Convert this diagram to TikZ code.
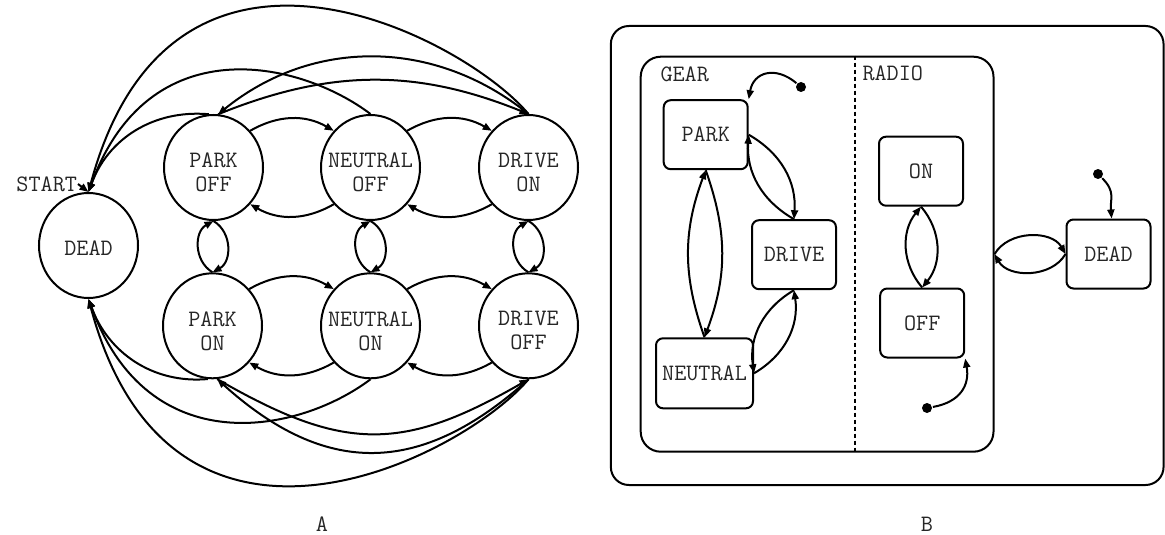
\documentclass[tikz,border=0pt]{standalone}
\usepackage{fontspec}
\usetikzlibrary{shapes.geometric, arrows.meta}
\begin{document}
\begin{tikzpicture}[x=1pt,y=1pt,
  line width=2pt,
  txt/.style={font=\ttfamily\fontsize{23.5}{24}\selectfont, inner sep=0pt, text=black!85},
  stt/.style={ellipse, draw, minimum width=99pt, minimum height=105pt, inner sep=0pt},
  sttlbl/.style={txt, align=center, yshift=-5pt},
  sbox/.style={draw, rounded corners=7pt, minimum width=84pt, minimum height=69pt, inner sep=0pt, txt},
  arr/.style={-{Triangle[length=9pt,width=7pt]}},
  initdot/.style={circle, fill, inner sep=0pt, minimum size=10pt},
]
\useasboundingbox (0,0) rectangle (1165,-535);

% ---------- A: flat state machine ----------
\node[stt, label={[txt, yshift=-3pt]center:DEAD}] (dead) at (88.5,-245.5) {};
\node[stt, label={[sttlbl]center:PARK\\OFF}]    (poff) at (213.5,-167.5) {};
\node[stt, label={[sttlbl]center:NEUTRAL\\OFF}] (noff) at (370.5,-167.5) {};
\node[stt, label={[sttlbl]center:DRIVE\\ON}]    (don)  at (528.5,-167.5) {};
\node[stt, label={[sttlbl]center:PARK\\ON}]     (pon)  at (212.5,-325.8) {};
\node[stt, label={[sttlbl]center:NEUTRAL\\ON}]  (non)  at (370.5,-325.8) {};
\node[stt, label={[sttlbl]center:DRIVE\\OFF}]   (doff) at (528.5,-325.8) {};

\node[txt, anchor=east] (start) at (78,-184) {START};
\draw[arr] (start.east) -- (dead.north);

% neighbouring gear changes
\draw[arr] (poff.45) to[bend left=30] (noff.135);
\draw[arr] (noff.-135) to[bend left=30] (poff.-45);
\draw[arr] (noff.45) to[bend left=30] (don.135);
\draw[arr] (don.-135) to[bend left=30] (noff.-45);
\draw[arr] (pon.45) to[bend left=30] (non.135);
\draw[arr] (non.-135) to[bend left=30] (pon.-45);
\draw[arr] (non.45) to[bend left=30] (doff.135);
\draw[arr] (doff.-135) to[bend left=30] (non.-45);

% radio toggles
\draw[arr] (pon.north) to[bend left=60, looseness=1.1] (poff.south);
\draw[arr] (poff.south) to[bend left=60, looseness=1.1] (pon.north);
\draw[arr] (non.north) to[bend left=60, looseness=1.1] (noff.south);
\draw[arr] (noff.south) to[bend left=60, looseness=1.1] (non.north);
\draw[arr] (doff.north) to[bend left=60, looseness=1.1] (don.south);
\draw[arr] (don.south) to[bend left=60, looseness=1.1] (doff.north);

% park <-> drive
\draw[arr] (don.north) to[bend right=39] (poff.85);
\draw[arr] (poff.85) to[bend left=22] (don.north);
\draw[arr] (pon.-85) to[bend right=30, looseness=1.2] (doff.south);
\draw[arr] (doff.south) to[bend left=42, looseness=1.2] (pon.-85);

% every state can die
\draw[arr] (poff.95) to[out=175, in=70] (dead.north);
\draw[arr] (noff.north) .. controls +(143:90) and +(70:175) .. (dead.north);
\draw[arr] (don.north) .. controls +(130:100) and +(75:320) .. (dead.north);
\draw[arr] (pon.-95) to[out=185, in=-70] (dead.south);
\draw[arr] (non.south) .. controls +(-143:90) and +(-70:175) .. (dead.south);
\draw[arr] (doff.south) .. controls +(-130:100) and +(-75:320) .. (dead.south);

\node[txt, anchor=base] (capa) at (322,-531) {A};

% ---------- B: hierarchical statechart ----------
\node[draw, rounded corners=18pt, minimum width=552.7pt, minimum height=459pt, inner sep=0pt] (outer) at (887.2,-255.5) {};
\node[draw, rounded corners=20pt, minimum width=352.8pt, minimum height=395pt, inner sep=0pt] (sys) at (817.1,-254.2) {};
\coordinate (divx) at (854.8,0);
\draw[dash pattern=on 4pt off 3pt, line width=1.8pt] (sys.north -| divx) -- (sys.south -| divx);

\node[txt, anchor=west] (gear) at (659.5,-74) {GEAR};
\node[txt, anchor=west] (radio) at (861.5,-73) {RADIO};

\node[sbox] (park) at (705.7,-134.7) {PARK};
\node[sbox] (drive) at (794,-254.7) {DRIVE};
\node[sbox, minimum width=97pt, minimum height=70pt] (neutral) at (704.5,-373.3) {NEUTRAL};
\node[sbox] (ron) at (921,-171.2) {ON};
\node[sbox] (roff) at (922.2,-323) {OFF};
\node[sbox] (deadb) at (1108.5,-254) {DEAD};

\node[initdot] (igear) at (801,-87) {};
\node[initdot] (iradio) at (927,-408) {};
\node[initdot] (idead) at (1098,-174) {};

\draw[arr] (igear) to[out=140, in=80, looseness=1.4] (park.north east);
\draw[arr] (iradio) to[out=10, in=-80, looseness=1.2] (roff.south east);
\draw[arr] (idead) to[out=-45, in=95, looseness=1.2] (deadb.85);

\draw[arr] (neutral.north) to[bend left=20] (park.south);
\draw[arr] (park.south) to[bend left=20] (neutral.north);
\draw[arr] (park.east) to[bend left=32] (drive.north);
\draw[arr] (drive.north) to[bend left=32] (park.east);
\draw[arr] (neutral.east) to[bend right=34] (drive.south);
\draw[arr] (drive.south) to[bend right=34] (neutral.east);

\draw[arr] (roff.north) to[bend left=40] (ron.south);
\draw[arr] (ron.south) to[bend left=40] (roff.north);

\draw[arr] (sys.east) to[bend left=60] (deadb.west);
\draw[arr] (deadb.west) to[bend left=60] (sys.east);

\node[txt, anchor=base] (capb) at (927,-531) {B};
\end{tikzpicture}
\end{document}
